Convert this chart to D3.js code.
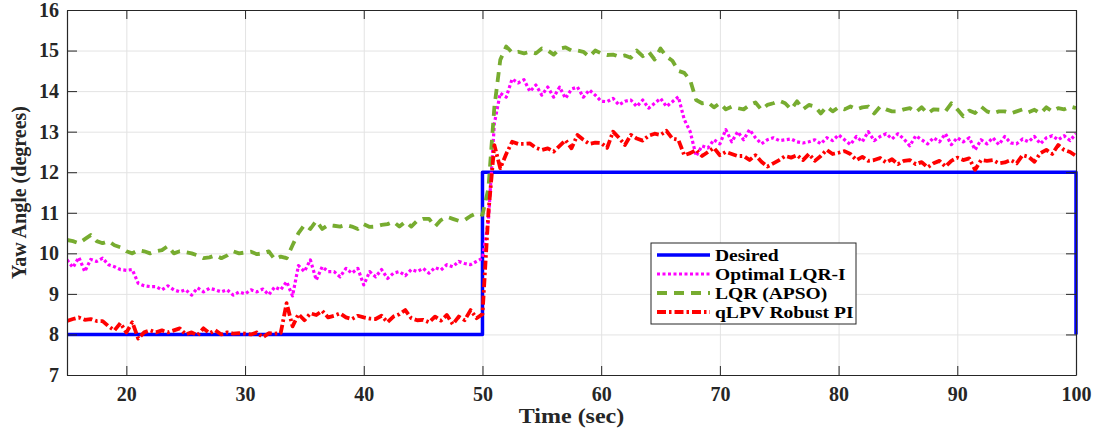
<!DOCTYPE html>
<html>
<head>
<meta charset="utf-8">
<script src="https://d3js.org/d3.v7.min.js"></script>
<style>
body { margin: 0; background: #ffffff; }
</style>
</head>
<body>
<div id="chart"></div>
<script>
/* Sample times (sec) shared by the three controller responses */
var timeSec = [
  15,15.5,16,16.5,17,17.5,18,18.5,19,19.5,
  20,20.5,21,21.5,22,22.5,23,23.5,24,24.5,
  25,25.5,26,26.5,27,27.5,28,28.5,29,29.5,
  30,30.5,31,31.5,32,32.5,33,33.5,34,34.5,
  35,35.5,36,36.5,37,37.5,38,38.5,39,39.5,
  40,40.5,41,41.5,42,42.5,43,43.5,44,44.5,
  45,45.5,46,46.5,47,47.5,48,48.5,49,49.5,
  50,50.5,51,51.5,52,52.5,53,53.5,54,54.5,
  55,55.5,56,56.5,57,57.5,58,58.5,59,59.5,
  60,60.5,61,61.5,62,62.5,63,63.5,64,64.5,
  65,65.5,66,66.5,67,67.5,68,68.5,69,69.5,
  70,70.5,71,71.5,72,72.5,73,73.5,74,74.5,
  75,75.5,76,76.5,77,77.5,78,78.5,79,79.5,
  80,80.5,81,81.5,82,82.5,83,83.5,84,84.5,
  85,85.5,86,86.5,87,87.5,88,88.5,89,89.5,
  90,90.5,91,91.5,92,92.5,93,93.5,94,94.5,
  95,95.5,96,96.5,97,97.5,98,98.5,99,99.5,
  100
];

/* Reference (step) signal */
var desiredTime = [15, 50, 50, 100, 100];
var desiredDeg  = [8, 8, 12, 12, 8];

/* Optimal LQR-I */
var lqriDeg = [
  9.84,9.65,9.9,9.55,9.85,9.8,9.88,9.72,9.67,9.6,
  9.58,9.6,9.26,9.2,9.18,9.18,9.1,9.2,9.1,9.05,
  9.1,8.97,9.15,9.05,9.14,9.1,9.05,9.1,8.97,9.05,
  9.0,9.1,9.05,9.12,8.98,9.17,9.1,9.3,8.95,9.7,
  9.55,9.84,9.34,9.67,9.55,9.55,9.42,9.63,9.51,9.63,
  9.22,9.55,9.42,9.6,9.38,9.51,9.55,9.45,9.6,9.55,
  9.63,9.51,9.65,9.59,9.72,9.67,9.8,9.75,9.72,9.8,
  9.88,10.8,13.2,13.95,13.85,14.3,14.2,14.28,13.99,14.15,
  13.9,14.1,13.85,14.1,13.82,14.05,14.1,13.85,14.03,13.9,
  13.75,13.74,13.82,13.66,13.75,13.78,13.62,13.78,13.58,13.7,
  13.82,13.62,13.74,13.86,13.3,13.0,12.4,12.65,12.6,12.8,
  12.7,13.05,12.75,13.0,12.8,13.05,12.85,12.7,12.8,12.85,
  12.78,12.8,12.82,12.75,12.72,12.75,12.8,12.7,12.85,12.78,
  12.92,12.8,12.68,12.88,12.75,13.0,12.78,12.88,12.95,12.82,
  12.95,12.82,12.65,12.9,12.8,12.7,12.85,12.75,12.95,12.68,
  12.85,12.75,12.85,12.55,12.8,12.7,12.85,12.68,12.88,12.72,
  12.7,12.82,12.75,12.88,12.7,12.85,12.9,12.8,12.9,12.78,
  12.95
];

/* LQR (APSO) */
var apsoDeg = [
  10.33,10.3,10.25,10.35,10.45,10.3,10.25,10.3,10.2,10.15,
  10.05,10.0,10.08,10.05,10.0,10.05,10.08,10.18,10.0,10.05,
  10.03,10.0,9.95,9.88,9.9,9.95,9.88,9.95,10.05,10.0,
  10.02,10.04,9.98,10.0,10.05,9.85,9.92,9.88,10.2,10.5,
  10.7,10.6,10.8,10.6,10.7,10.68,10.66,10.7,10.66,10.6,
  10.72,10.65,10.66,10.7,10.72,10.78,10.66,10.78,10.66,10.8,
  10.85,10.85,10.66,10.82,10.9,10.85,10.8,10.82,10.92,10.99,
  10.95,11.6,13.6,14.77,15.1,14.95,14.97,14.93,14.97,14.93,
  15.05,15.0,14.9,15.05,15.08,15.0,15.0,14.97,14.85,15.0,
  14.93,14.89,14.9,14.85,14.88,14.82,15.0,14.86,14.97,14.78,
  15.05,14.85,14.75,14.5,14.45,14.27,13.78,13.7,13.72,13.6,
  13.7,13.55,13.62,13.58,13.55,13.66,13.72,13.54,13.66,13.7,
  13.76,13.7,13.55,13.75,13.55,13.66,13.62,13.45,13.62,13.5,
  13.6,13.55,13.62,13.55,13.6,13.62,13.45,13.62,13.55,13.5,
  13.5,13.55,13.58,13.48,13.6,13.45,13.55,13.54,13.5,13.7,
  13.55,13.38,13.52,13.46,13.62,13.5,13.45,13.5,13.5,13.45,
  13.5,13.55,13.48,13.54,13.45,13.6,13.5,13.58,13.55,13.62,
  13.58
];

/* qLPV Robust PI */
var qlpvDeg = [
  8.33,8.38,8.42,8.36,8.38,8.33,8.33,8.2,8.1,8.28,
  8.05,8.3,7.9,8.05,8.1,8.05,8.1,8.05,8.1,8.15,
  8.0,8.05,7.98,8.15,8.03,8.1,8.0,8.05,8.02,8.03,
  8.02,8.0,8.05,7.93,8.03,8.02,8.03,8.77,8.2,8.5,
  8.35,8.52,8.48,8.58,8.42,8.46,8.52,8.42,8.38,8.46,
  8.42,8.39,8.38,8.46,8.3,8.44,8.5,8.6,8.4,8.35,
  8.36,8.3,8.44,8.34,8.48,8.25,8.44,8.35,8.6,8.4,
  8.5,11.0,12.67,12.1,12.45,12.75,12.7,12.7,12.71,12.6,
  12.55,12.59,12.51,12.65,12.79,12.59,12.92,12.8,12.7,12.73,
  12.72,12.6,13.0,12.85,12.67,12.92,12.83,12.78,12.9,12.95,
  12.92,13.02,12.83,12.8,12.42,12.47,12.55,12.4,12.5,12.6,
  12.42,12.5,12.45,12.4,12.4,12.3,12.42,12.26,12.14,12.22,
  12.3,12.4,12.36,12.42,12.3,12.45,12.28,12.4,12.55,12.45,
  12.48,12.52,12.45,12.3,12.38,12.28,12.3,12.35,12.24,12.32,
  12.2,12.28,12.3,12.2,12.25,12.12,12.22,12.28,12.14,12.28,
  12.36,12.3,12.34,12.06,12.3,12.28,12.3,12.22,12.24,12.3,
  12.22,12.42,12.38,12.26,12.47,12.55,12.45,12.67,12.55,12.5,
  12.4
];

var xTicks = [20, 30, 40, 50, 60, 70, 80, 90, 100];
var yTicks = [7, 8, 9, 10, 11, 12, 13, 14, 15, 16];
var seriesNames = ["Desired", "Optimal LQR-I", "LQR (APSO)", "qLPV Robust PI"];

var W = 1099, H = 434;
var plotLeft = 67, plotRight = 1076, plotTop = 10, plotBottom = 375;
var font = "'Liberation Serif', 'Times New Roman', serif";

var svg = d3.select("#chart").append("svg")
    .attr("width", W)
    .attr("height", H);

var x = d3.scaleLinear().domain([15, 100]).range([plotLeft, plotRight]);
var y = d3.scaleLinear().domain([7, 16]).range([plotBottom, plotTop]);

/* grid */
svg.append("g")
    .attr("transform", "translate(0," + plotBottom + ")")
    .call(d3.axisBottom(x).tickValues(xTicks).tickSize(-(plotBottom - plotTop)).tickFormat(""))
    .call(g => g.select(".domain").remove())
    .call(g => g.selectAll("line").attr("stroke", "#e3e3e3").attr("stroke-width", 1));
svg.append("g")
    .attr("transform", "translate(" + plotLeft + ",0)")
    .call(d3.axisLeft(y).tickValues(yTicks).tickSize(-(plotRight - plotLeft)).tickFormat(""))
    .call(g => g.select(".domain").remove())
    .call(g => g.selectAll("line").attr("stroke", "#e3e3e3").attr("stroke-width", 1));

/* lines */
svg.append("clipPath").attr("id", "plotclip")
    .append("rect")
    .attr("x", plotLeft).attr("y", plotTop - 2)
    .attr("width", plotRight - plotLeft + 2).attr("height", plotBottom - plotTop + 4);

var line = d3.line()
    .x(d => x(d[0]))
    .y(d => y(d[1]));

var styles = [
  {color: "#0000ff", width: 3.5, dash: null},
  {color: "#ff00ff", width: 3.2, dash: "3,2.5"},
  {color: "#77ac30", width: 3.8, dash: "10,7"},
  {color: "#ff0000", width: 3.8, dash: "9,3,2.5,3"}
];

var seriesData = [
  d3.zip(desiredTime, desiredDeg),
  d3.zip(timeSec, lqriDeg),
  d3.zip(timeSec, apsoDeg),
  d3.zip(timeSec, qlpvDeg)
];

var plot = svg.append("g").attr("clip-path", "url(#plotclip)");
seriesData.forEach(function(d, i) {
    plot.append("path")
        .datum(d)
        .attr("d", line)
        .attr("fill", "none")
        .attr("stroke", styles[i].color)
        .attr("stroke-width", styles[i].width)
        .attr("stroke-dasharray", styles[i].dash)
        .attr("stroke-linejoin", "round");
});

/* axes, ticks inward on all four sides */
function styleAxis(g) {
    g.select(".domain").attr("stroke", "#262626").attr("stroke-width", 1.2);
    g.selectAll(".tick line").attr("stroke", "#262626").attr("stroke-width", 1);
    g.selectAll("text")
        .attr("font-family", font)
        .attr("font-weight", "bold")
        .attr("font-size", "20px")
        .attr("fill", "#262626");
}
svg.append("g")
    .attr("transform", "translate(0," + plotBottom + ")")
    .call(d3.axisBottom(x).tickValues(xTicks).tickSizeInner(-9).tickSizeOuter(0).tickPadding(12))
    .call(styleAxis);
svg.append("g")
    .attr("transform", "translate(0," + plotTop + ")")
    .call(d3.axisTop(x).tickValues(xTicks).tickSizeInner(-9).tickSizeOuter(0).tickFormat(""))
    .call(styleAxis);
svg.append("g")
    .attr("transform", "translate(" + plotLeft + ",0)")
    .call(d3.axisLeft(y).tickValues(yTicks).tickSizeInner(-10).tickSizeOuter(0).tickPadding(8))
    .call(styleAxis);
svg.append("g")
    .attr("transform", "translate(" + plotRight + ",0)")
    .call(d3.axisRight(y).tickValues(yTicks).tickSizeInner(-10).tickSizeOuter(0).tickFormat(""))
    .call(styleAxis);

/* axis labels */
svg.append("text")
    .attr("transform", "translate(" + ((plotLeft + plotRight) / 2) + ",423) scale(1.2,1)")
    .attr("text-anchor", "middle")
    .attr("font-family", font)
    .attr("font-weight", "bold")
    .attr("font-size", "20px")
    .attr("fill", "#262626")
    .text("Time (sec)");
svg.append("text")
    .attr("transform", "translate(26," + ((plotTop + plotBottom) / 2) + ") rotate(-90)")
    .attr("text-anchor", "middle")
    .attr("font-family", font)
    .attr("font-weight", "bold")
    .attr("font-size", "20px")
    .attr("fill", "#262626")
    .text("Yaw Angle (degrees)");

/* legend */
var lg = svg.append("g").attr("transform", "translate(651,243)");
lg.append("rect")
    .attr("width", 205).attr("height", 81)
    .attr("fill", "#ffffff")
    .attr("stroke", "#262626")
    .attr("stroke-width", 1);
seriesNames.forEach(function(name, i) {
    var ly = 12 + i * 19;
    lg.append("line")
        .attr("x1", 6).attr("x2", 59)
        .attr("y1", ly).attr("y2", ly)
        .attr("stroke", styles[i].color)
        .attr("stroke-width", styles[i].width)
        .attr("stroke-dasharray", styles[i].dash);
    lg.append("text")
        .attr("transform", "translate(64," + ly + ") scale(1.15,1)")
        .attr("dy", "0.35em")
        .attr("font-family", font)
        .attr("font-weight", "bold")
        .attr("font-size", "17px")
        .attr("fill", "#000000")
        .text(name);
});
</script>
</body>
</html>
